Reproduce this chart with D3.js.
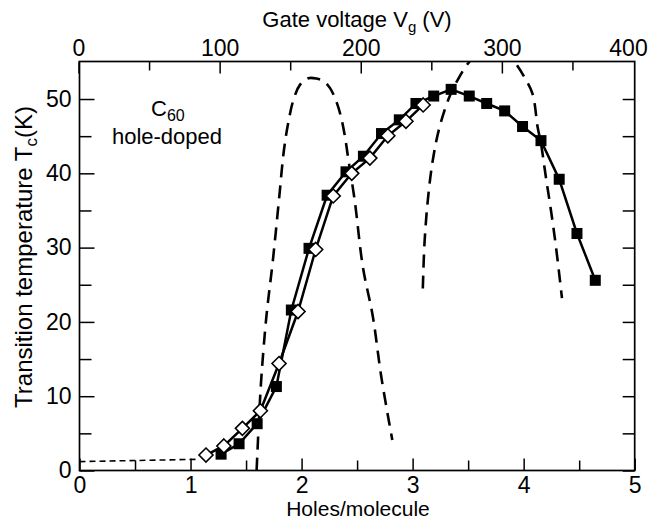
<!DOCTYPE html>
<html>
<head>
<meta charset="utf-8">
<script src="https://cdn.jsdelivr.net/npm/d3@7"></script>
<style>
  body { margin: 0; background: #fff; }
  svg text { font-family: "Liberation Sans", Arial, Helvetica, sans-serif; fill: #000; }
</style>
</head>
<body>
<svg id="chart" width="660" height="522"></svg>
<script>
// filled squares
const squareHoles = [1.275, 1.437, 1.60, 1.773, 1.908, 2.067, 2.23, 2.40, 2.557, 2.72, 2.88, 3.03,
  3.19, 3.347, 3.51, 3.667, 3.829, 3.99, 4.156, 4.32, 4.48, 4.645];
const squareTc = [2.2, 3.6, 6.3, 11.3, 21.6, 29.9, 37.05, 40.2, 42.3, 45.35, 47.2, 49.4,
  50.4, 51.3, 50.4, 49.4, 48.4, 46.3, 44.4, 39.2, 31.9, 25.6];

// open diamonds
const diamondHoles = [1.139, 1.30, 1.467, 1.629, 1.797, 1.968, 2.127, 2.285, 2.452, 2.615, 2.777, 2.94, 3.095];
const diamondTc = [2.08, 3.3, 5.67, 8.05, 14.4, 21.4, 29.75, 36.95, 40.0, 42.05, 45.05, 47.0, 49.2];

// short dashed line at low doping
const baseHoles = [0, 1.05];
const baseTc = [1.2, 1.5];

// long dashed domes
const domeAHoles = [1.595, 1.62, 1.64, 1.683, 1.743, 1.80, 1.84, 1.88, 1.925, 1.985, 2.06, 2.135, 2.20,
  2.255, 2.31, 2.355, 2.39, 2.42, 2.478, 2.552, 2.642, 2.718, 2.817];
const domeATc = [0, 8, 13, 20.7, 28.5, 37, 43, 46.8, 49.8, 51.9, 52.8, 52.75, 52.4,
  51.5, 49.8, 47.6, 45, 42, 36.4, 27.4, 20.7, 12.6, 4.1];
const domeBHoles = [3.092, 3.107, 3.137, 3.182, 3.242, 3.332, 3.42, 3.51, 3.6, 3.713, 3.82, 3.916,
  4.006, 4.08, 4.126, 4.156, 4.20, 4.246, 4.291, 4.345];
const domeBTc = [24.5, 30.6, 36.4, 41.8, 46.2, 50.3, 52.95, 55.0, 56.3, 56.9, 56.4, 55.0,
  52.95, 50.7, 46.2, 44.0, 39.5, 35.0, 30.1, 23.2];

const holeTicks = [0, 1, 2, 3, 4, 5];
const holeMinor = [0.5, 1.5, 2.5, 3.5, 4.5];
const voltTicks = [0, 100, 200, 300, 400];
const voltMinor = [50, 150, 250, 350];
const tcTicks = [0, 10, 20, 30, 40, 50];
const tcMinor = [5, 15, 25, 35, 45];

const svg = d3.select("#chart");
const tickFont = 23;
const titleFont = 22;

// plot frame
const frame = { left: 79.5, right: 634.7, top: 61.5, bottom: 470.5 };

const x = d3.scaleLinear().domain([0, 5]).range([frame.left, frame.right]);
const xTop = d3.scaleLinear().domain([0, 400]).range([78.5, 643]);
const y = d3.scaleLinear().domain([0, 55.05]).range([frame.bottom, frame.top]);

const zip = (xs, ys) => xs.map((v, i) => [v, ys[i]]);

function styleAxis(g) {
  g.select(".domain").remove();
  g.selectAll(".tick line").attr("stroke", "#000").attr("stroke-width", 1.5);
  g.selectAll(".tick text").attr("font-size", tickFont).attr("fill", "#000")
    .attr("font-family", '"Liberation Sans", Arial, sans-serif');
}

// bottom axis
svg.append("g").attr("transform", `translate(0,${frame.bottom})`)
  .call(d3.axisBottom(x).tickValues(holeTicks).tickSize(-12).tickPadding(6).tickFormat(d3.format("d")))
  .call(styleAxis);
svg.append("g").attr("transform", `translate(0,${frame.bottom})`)
  .call(d3.axisBottom(x).tickValues(holeMinor).tickSize(-10).tickFormat(""))
  .call(styleAxis);

// top axis (gate voltage)
const topAxis = svg.append("g").attr("transform", `translate(0,${frame.top})`)
  .call(d3.axisTop(xTop).tickValues(voltTicks).tickSize(-12).tickPadding(6).tickFormat(d3.format("d")))
  .call(styleAxis);
topAxis.selectAll(".tick").filter(d => d === 400).each(function () {
  d3.select(this).select("line").remove();
  d3.select(this).select("text").attr("dx", -15);
});
svg.append("g").attr("transform", `translate(0,${frame.top})`)
  .call(d3.axisTop(xTop).tickValues(voltMinor).tickSize(-9).tickFormat(""))
  .call(styleAxis);

// left axis
svg.append("g").attr("transform", `translate(${frame.left},0)`)
  .call(d3.axisLeft(y).tickValues(tcTicks).tickSize(-15).tickPadding(8).tickFormat(d3.format("d")))
  .call(styleAxis);
svg.append("g").attr("transform", `translate(${frame.left},0)`)
  .call(d3.axisLeft(y).tickValues(tcMinor).tickSize(-12).tickFormat(""))
  .call(styleAxis);

// right axis
svg.append("g").attr("transform", `translate(${frame.right},0)`)
  .call(d3.axisRight(y).tickValues(tcTicks.concat(tcMinor)).tickSize(-12).tickFormat(""))
  .call(styleAxis);

// frame
svg.append("rect")
  .attr("x", frame.left).attr("y", frame.top)
  .attr("width", frame.right - frame.left).attr("height", frame.bottom - frame.top)
  .attr("fill", "none").attr("stroke", "#000").attr("stroke-width", 1.7);

svg.append("clipPath").attr("id", "plotClip")
  .append("rect").attr("x", frame.left).attr("y", frame.top)
  .attr("width", frame.right - frame.left).attr("height", frame.bottom - frame.top);

const plot = svg.append("g").attr("clip-path", "url(#plotClip)");

const straight = d3.line().x(d => x(d[0])).y(d => y(d[1]));
const smooth = d3.line().x(d => x(d[0])).y(d => y(d[1])).curve(d3.curveCatmullRom.alpha(0.5));

// short dashed baseline
plot.append("path").datum(zip(baseHoles, baseTc))
  .attr("d", straight).attr("fill", "none")
  .attr("stroke", "#000").attr("stroke-width", 1.6).attr("stroke-dasharray", "6,4");

// dashed domes
[[domeAHoles, domeATc], [domeBHoles, domeBTc]].forEach(([hs, ts]) => {
  plot.append("path").datum(zip(hs, ts))
    .attr("d", smooth).attr("fill", "none")
    .attr("stroke", "#000").attr("stroke-width", 2.6).attr("stroke-dasharray", "13,8");
});

// square series
const squares = zip(squareHoles, squareTc);
plot.append("path").datum(squares)
  .attr("d", straight).attr("fill", "none")
  .attr("stroke", "#000").attr("stroke-width", 2.5);
plot.selectAll("rect.sq").data(squares).enter().append("rect")
  .attr("class", "sq")
  .attr("x", d => x(d[0]) - 5.5).attr("y", d => y(d[1]) - 5.5)
  .attr("width", 11).attr("height", 11)
  .attr("fill", "#000");

// diamond series
const diamonds = zip(diamondHoles, diamondTc);
plot.append("path").datum(diamonds)
  .attr("d", straight).attr("fill", "none")
  .attr("stroke", "#000").attr("stroke-width", 2.5);
plot.selectAll("path.dm").data(diamonds).enter().append("path")
  .attr("class", "dm")
  .attr("d", d => {
    const cx = x(d[0]), cy = y(d[1]), r = 7;
    return `M${cx},${cy - r}L${cx + r},${cy}L${cx},${cy + r}L${cx - r},${cy}Z`;
  })
  .attr("fill", "#fff").attr("stroke", "#000").attr("stroke-width", 1.6);

// axis titles
svg.append("text")
  .attr("x", 358).attr("y", 516).attr("text-anchor", "middle")
  .attr("font-size", 21)
  .text("Holes/molecule");

const topTitle = svg.append("text")
  .attr("x", 357).attr("y", 27).attr("text-anchor", "middle")
  .attr("font-size", titleFont);
topTitle.append("tspan").text("Gate voltage V");
topTitle.append("tspan").attr("font-size", 15).attr("dy", 5).text("g");
topTitle.append("tspan").attr("dy", -5).text(" (V)");

const yTitle = svg.append("text")
  .attr("transform", "translate(32,257) rotate(-90)")
  .attr("text-anchor", "middle")
  .attr("font-size", 24);
yTitle.append("tspan").text("Transition temperature T");
yTitle.append("tspan").attr("font-size", 17).attr("dy", 5).text("c");
yTitle.append("tspan").attr("dy", -5).text("(K)");

// annotation
const c60 = svg.append("text")
  .attr("x", 151).attr("y", 116)
  .attr("font-size", titleFont);
c60.append("tspan").text("C");
c60.append("tspan").attr("font-size", 16).attr("dy", 5).text("60");

svg.append("text")
  .attr("x", 167).attr("y", 144).attr("text-anchor", "middle")
  .attr("font-size", titleFont)
  .text("hole-doped");
</script>
</body>
</html>
